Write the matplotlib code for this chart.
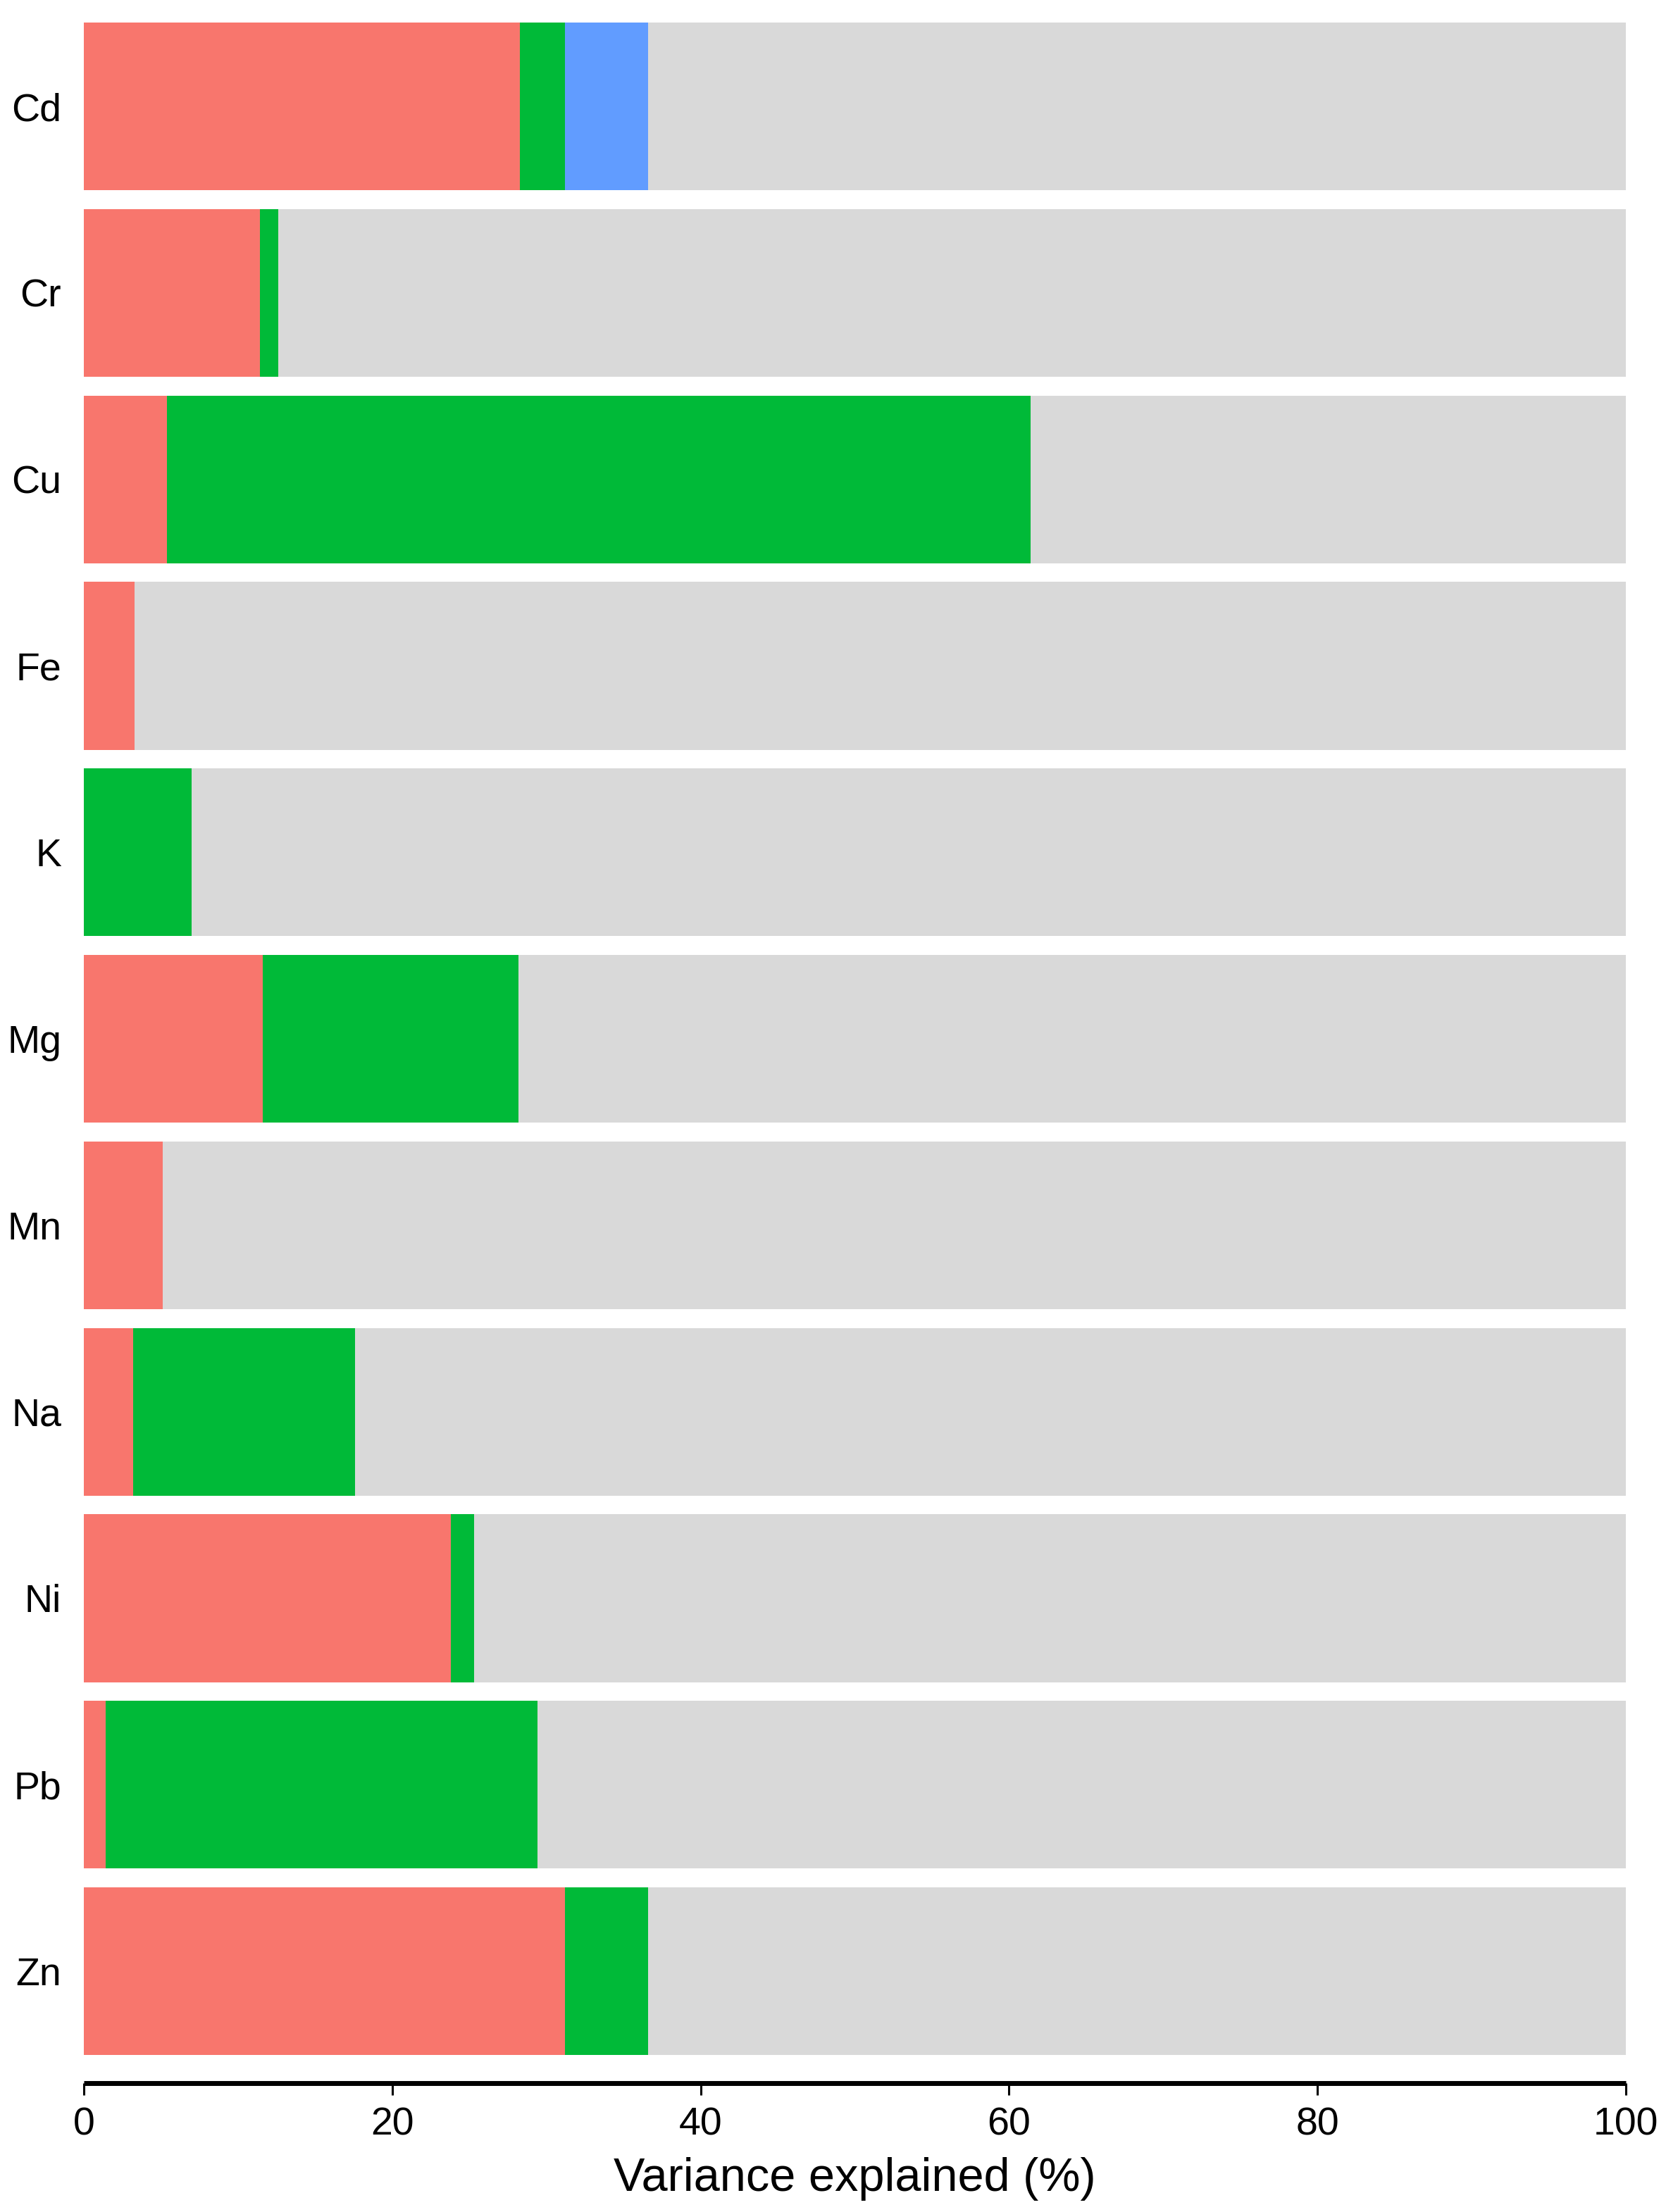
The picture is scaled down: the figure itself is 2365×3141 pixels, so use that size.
# Variance partitioning bars per element
import matplotlib
matplotlib.use('Agg')
import matplotlib.pyplot as plt
import numpy as np

plt.rcParams['font.family'] = ['Liberation Sans', 'DejaVu Sans']

# Data (% variance explained)
elements = ['Cd', 'Cr', 'Cu', 'Fe', 'K', 'Mg', 'Mn', 'Na', 'Ni', 'Pb', 'Zn']
part_red = [28.3, 11.4, 5.4, 3.3, 0.0, 11.6, 5.1, 3.2, 23.8, 1.4, 31.2]
part_green = [2.9, 1.2, 56.0, 0.0, 7.0, 16.6, 0.0, 14.4, 1.5, 28.0, 5.4]
part_blue = [5.4, 0, 0, 0, 0, 0, 0, 0, 0, 0, 0]

red = '#F8766D'
green = '#00BA38'
blue = '#619CFF'
grey = '#D9D9D9'

fig = plt.figure(figsize=(23.65, 31.41), dpi=100)
ax = fig.add_axes([0.0503, 0.0583, 0.9256, 0.9417])

ypos = np.arange(len(elements))[::-1]
r = np.array(part_red)
g = np.array(part_green)
b = np.array(part_blue)
rest = 100 - r - g - b

ax.barh(ypos, r, height=0.9, color=red, linewidth=0)
ax.barh(ypos, g, left=r, height=0.9, color=green, linewidth=0)
ax.barh(ypos, b, left=r + g, height=0.9, color=blue, linewidth=0)
ax.barh(ypos, rest, left=r + g + b, height=0.9, color=grey, linewidth=0)

ax.set_xlim(0, 100)
ax.set_ylim(-0.6, 10.571)
ax.set_yticks(ypos)
ax.set_yticklabels(elements)
ax.set_xticks([0, 20, 40, 60, 80, 100])

for s in ['top', 'right', 'left']:
    ax.spines[s].set_visible(False)
ax.spines['bottom'].set_linewidth(5)
ax.spines['bottom'].set_capstyle('butt')

ax.tick_params(axis='y', length=0, pad=23, labelsize=40)
ax.tick_params(axis='x', length=12, width=2.2, pad=12, labelsize=40)

ax.set_xlabel('Variance explained (%)', fontsize=48, labelpad=14)

plt.savefig('out.png', dpi=100)
